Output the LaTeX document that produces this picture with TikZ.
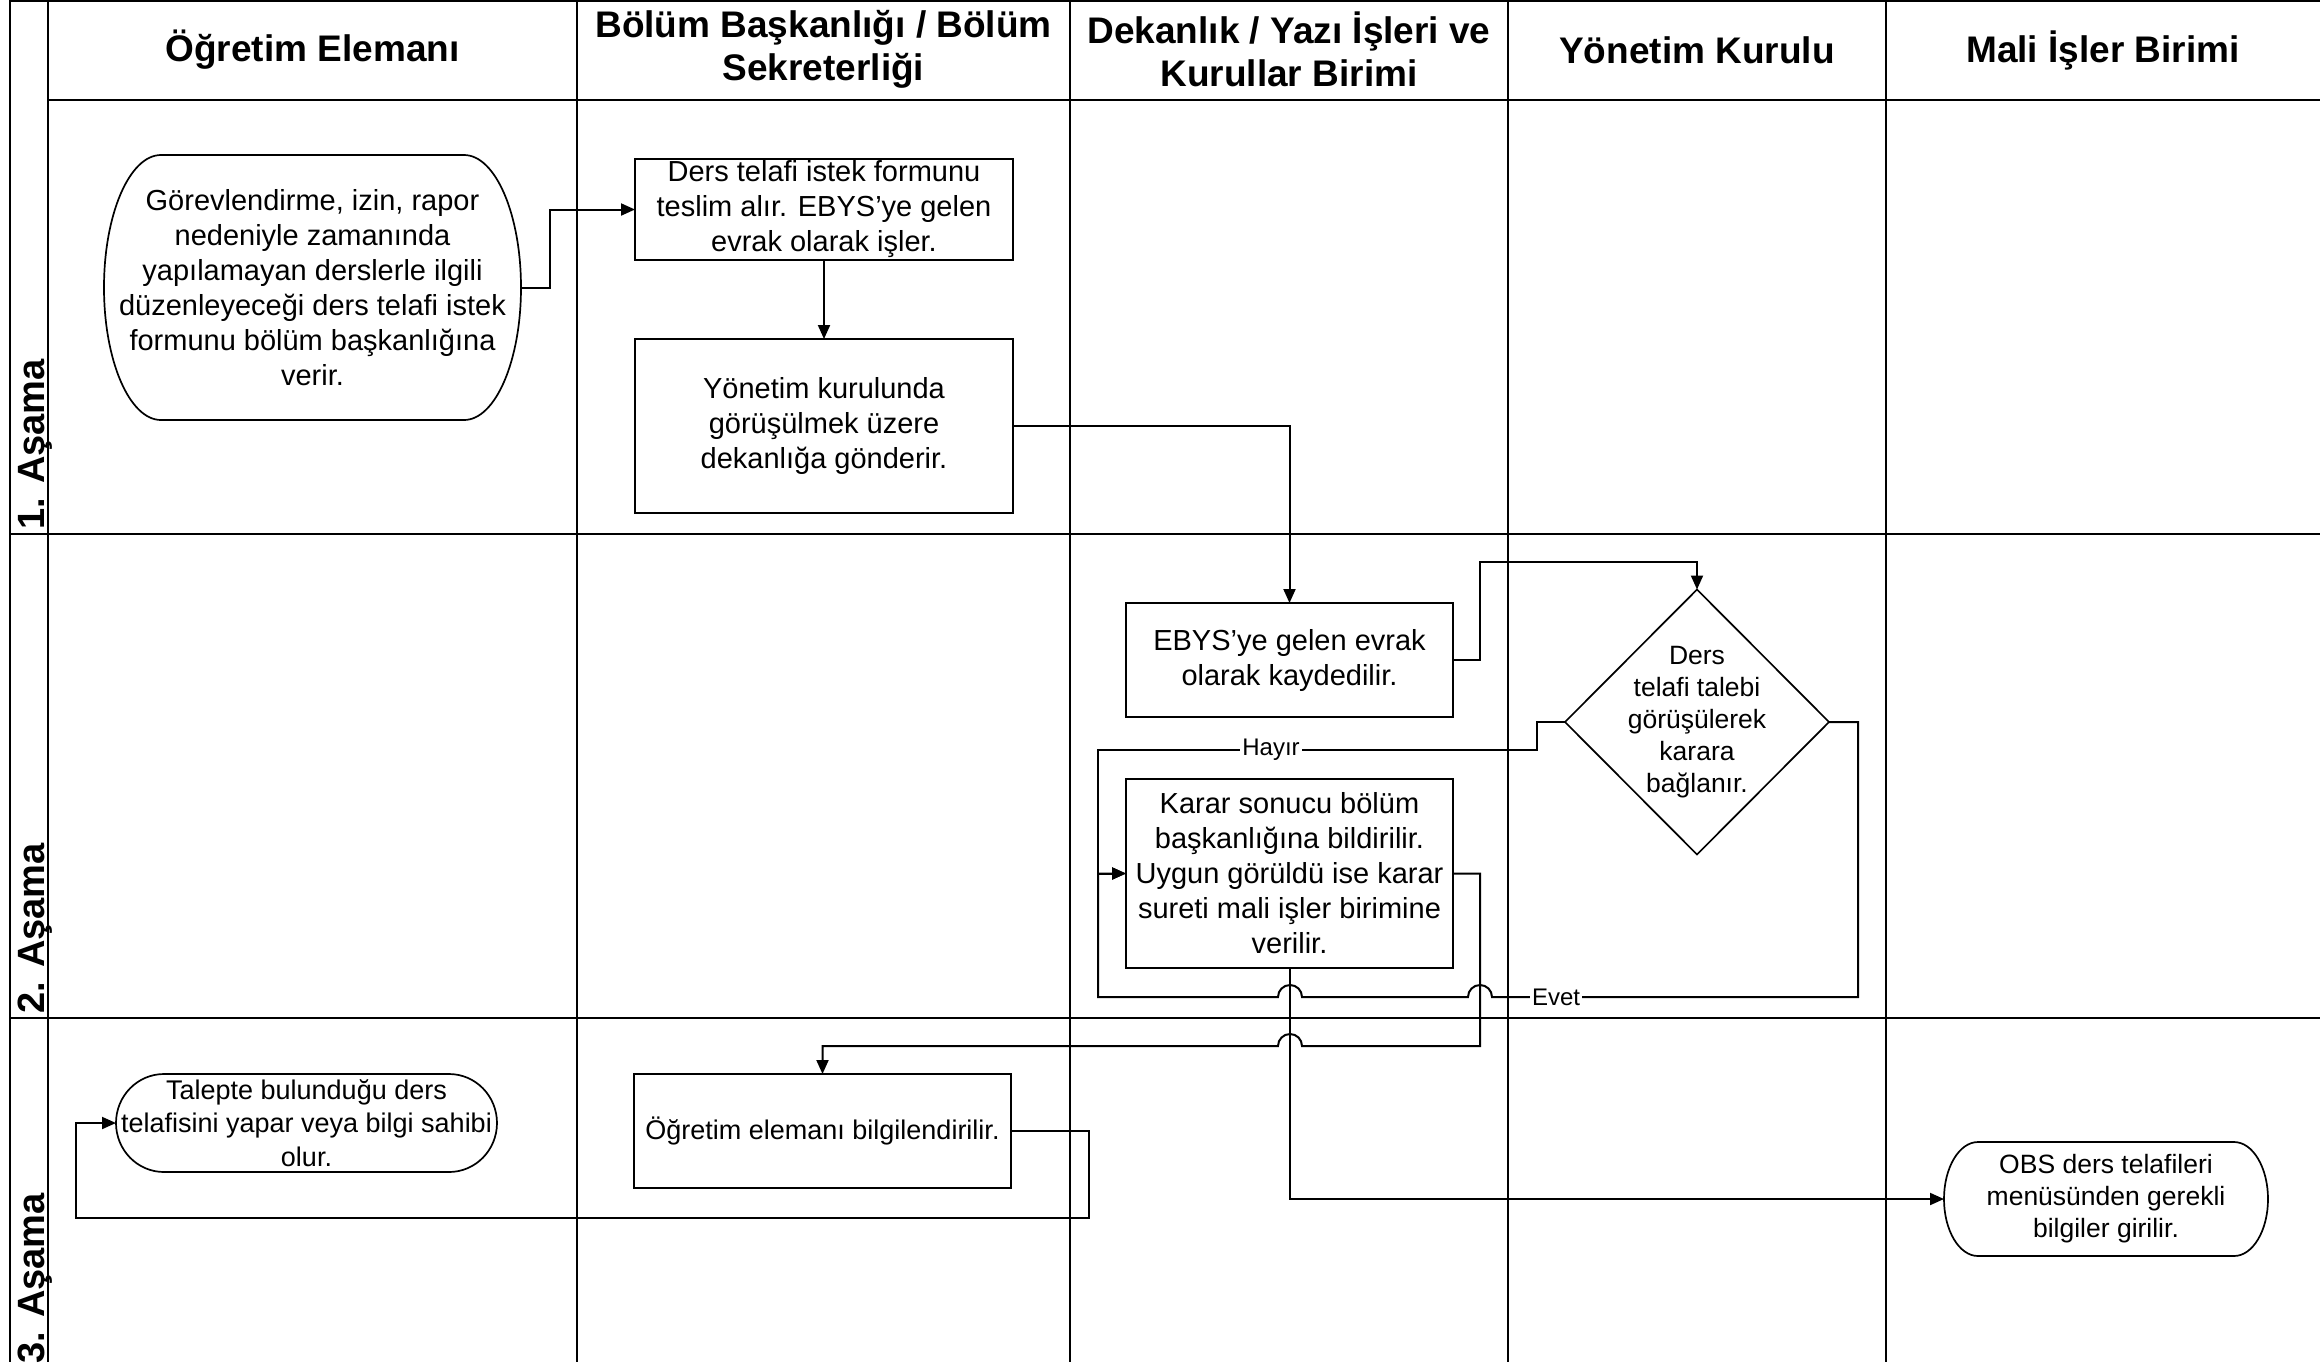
\documentclass[tikz,border=0pt]{standalone}
\usepackage{fontspec}
\setmainfont{Liberation Sans}
\usetikzlibrary{shapes.geometric,arrows.meta}

\tikzset{
  lane/.style={line width=1pt},
  rowline/.style={line width=1.3pt},
  hdr/.style={font=\bfseries\fontsize{18.5}{21.5}\selectfont, align=center, inner sep=0pt},
  stagelbl/.style={font=\bfseries\fontsize{19}{22}\selectfont, rotate=90, anchor=base west, inner sep=0pt},
  proc/.style={draw, line width=0.85pt, rectangle, inner sep=0pt, outer sep=0pt},
  term/.style={rectangle, inner sep=0pt, outer sep=0pt},
  decision/.style={diamond, draw, line width=0.85pt, inner sep=0pt, outer sep=0pt},
  outline/.style={line width=0.85pt},
  body/.style={align=center, inner sep=0pt, font=\fontsize{14.5}{17.5}\selectfont},
  smallbody/.style={align=center, inner sep=0pt, font=\fontsize{13.5}{16.75}\selectfont},
  tinybody/.style={align=center, inner sep=0pt, font=\fontsize{13.25}{16}\selectfont},
  flow/.style={line width=1pt, -{Triangle[length=7pt,width=6pt]}},
  edgelbl/.style={fill=white, inner sep=1pt, font=\fontsize{12}{14}\selectfont},
}

\begin{document}
\begin{tikzpicture}[x=0.5pt,y=-0.5pt]
\clip (0,0) rectangle (2320,1362);
\fill[white] (0,0) rectangle (2320,1362);

% swimlane grid
\draw[rowline] (10,1) -- (2320,1);
\draw[rowline] (10,0) -- (10,1362);
\draw[lane] (48,0) -- (48,1362);
\draw[rowline] (48,100) -- (2320,100);
\draw[rowline] (10,534) -- (2320,534);
\draw[rowline] (10,1018) -- (2320,1018);
\foreach \x in {577,1070,1508,1886} \draw[lane] (\x,0) -- (\x,1362);

% lane headers
\node[hdr] (h1) at (312.5,50) {Öğretim Elemanı};
\node[hdr] (h2) at (823.5,49) {Bölüm Başkanlığı / Bölüm\\Sekreterliği};
\node[hdr] (h3) at (1289,49) {Dekanlık / Yazı İşleri ve\\Kurullar Birimi};
\node[hdr] (h4) at (1697,50) {Yönetim Kurulu};
\node[hdr] (h5) at (2103,50) {Mali İşler Birimi};

% stage labels
\node[stagelbl] (s1) at (44,530) {1. Aşama};
\node[stagelbl] (s2) at (44,1014) {2. Aşama};
\node[stagelbl] (s3) at (44,1364) {3. Aşama};

% start: request form
\node[term, minimum width=208.5pt, minimum height=132.5pt] (A) at (312.5,287.5) {};
\draw[outline] ([xshift=-28.5pt]A.north east) arc[start angle=90,end angle=-90,x radius=28.5pt,y radius=66.25pt]
  -- ([xshift=28.5pt]A.south west) arc[start angle=270,end angle=90,x radius=28.5pt,y radius=66.25pt] -- cycle;
\node[body] (At) at (A) {Görevlendirme, izin, rapor\\nedeniyle zamanında\\yapılamayan derslerle ilgili\\düzenleyeceği ders telafi istek\\formunu bölüm başkanlığına\\verir.};

% department steps
\node[proc, minimum width=189pt, minimum height=50.5pt] (B) at (824,209.5) {};
\node[body] (Bt) at (B) {Ders telafi istek formunu\\teslim alır. EBYS’ye gelen\\evrak olarak işler.};

\node[proc, minimum width=189pt, minimum height=87pt] (C) at (824,426) {};
\node[body] (Ct) at (C) {Yönetim kurulunda\\görüşülmek üzere\\dekanlığa gönderir.};

% dean's office steps
\node[proc, minimum width=163.5pt, minimum height=57pt] (D) at (1289.5,660) {};
\node[body] (Dt) at (D) {EBYS’ye gelen evrak\\olarak kaydedilir.};

\node[proc, minimum width=163.5pt, minimum height=94.5pt] (F) at (1289.5,873.5) {};
\node[body] (Ft) at (F) {Karar sonucu bölüm\\başkanlığına bildirilir.\\Uygun görüldü ise karar\\sureti mali işler birimine\\verilir.};

% board decision
\node[decision, minimum width=132pt, minimum height=132.5pt] (E) at (1697,722) {};
\node[tinybody] (Et) at (E) {Ders\\telafi talebi\\görüşülerek\\karara\\bağlanır.};

% stage 3
\node[proc, minimum width=188.5pt, minimum height=57pt] (G) at (822.5,1131) {};
\node[smallbody] (Gt) at (G) {Öğretim elemanı bilgilendirilir.};

\node[term, minimum width=190.5pt, minimum height=49pt] (I) at (306.5,1123) {};
\draw[outline] ([xshift=-24pt]I.north east) arc[start angle=90,end angle=-90,x radius=24pt,y radius=24.5pt]
  -- ([xshift=24pt]I.south west) arc[start angle=270,end angle=90,x radius=24pt,y radius=24.5pt] -- cycle;
\node[smallbody] (It) at (I) {Talepte bulunduğu ders\\telafisini yapar veya bilgi sahibi\\olur.};

\node[term, minimum width=162pt, minimum height=57pt] (H) at (2106,1199) {};
\draw[outline] ([xshift=-17pt]H.north east) arc[start angle=90,end angle=-90,x radius=17pt,y radius=28.5pt]
  -- ([xshift=17pt]H.south west) arc[start angle=270,end angle=90,x radius=17pt,y radius=28.5pt] -- cycle;
\node[tinybody] (Ht) at (H) {OBS ders telafileri\\menüsünden gerekli\\bilgiler girilir.};

% connectors
\draw[flow] (A.east) -- (550,287.5) |- (B.west);
\draw[flow] (B.south) -- (C.north);
\draw[flow] (C.east) -| (D.north);
\draw[flow] (D.east) -- (1480,660) -- (1480,562) -| (E.north);
\draw[flow] (E.west) -- (1537,722) -- (1537,750) -- (1098,750) |- (F.west);
\draw[flow] (E.east) -- (1858,722) -- (1858,997) -- (1492,997)
  arc[start angle=0,end angle=180,radius=6pt] -- (1302,997)
  arc[start angle=0,end angle=180,radius=6pt] -- (1098,997) |- (F.west);
\draw[flow] (F.east) -- (1480,873.5) -- (1480,1046) -- (1302,1046)
  arc[start angle=0,end angle=180,radius=6pt] -- (822.5,1046) -- (G.north);
\draw[flow] (F.south) |- (H.west);
\draw[flow] (G.east) -- (1089,1131) -- (1089,1218) -- (76,1218) |- (I.west);

% branch labels
\node[edgelbl] (hayir) at (1271,750) {Hayır};
\node[edgelbl] (evet) at (1556,997) {Evet};
\end{tikzpicture}
\end{document}
